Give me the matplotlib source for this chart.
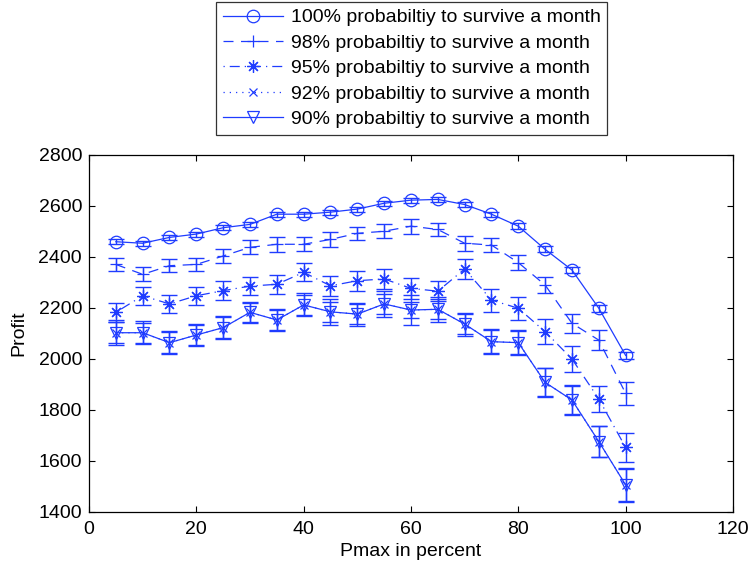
import numpy as np
import matplotlib
matplotlib.use('Agg')
import matplotlib.pyplot as plt

plt.rcParams['font.family'] = ['Liberation Sans', 'DejaVu Sans']
plt.rcParams['font.size'] = 14

pmax = [5, 10, 15, 20, 25, 30, 35, 40, 45, 50, 55, 60, 65, 70, 75, 80, 85, 90, 95, 100]

p100 = [2459, 2453, 2476, 2489, 2514, 2527, 2567, 2567, 2575, 2587,
        2610, 2622, 2625, 2605, 2567, 2520, 2429, 2348, 2198, 2013]
e100 = [10, 10, 10, 10, 10, 10, 10, 10, 10, 10, 10, 10, 10, 10, 10, 11, 12, 12, 13, 14]

p98 = [2370, 2331, 2365, 2370, 2403, 2437, 2449, 2449, 2468, 2492,
       2500, 2520, 2507, 2453, 2446, 2377, 2289, 2139, 2073, 1864]
e98 = [24, 27, 26, 26, 27, 28, 30, 28, 28, 25, 28, 30, 27, 30, 28, 30, 32, 38, 40, 44]

p95 = [2182, 2247, 2215, 2247, 2267, 2285, 2292, 2339, 2286, 2306,
       2313, 2276, 2265, 2352, 2230, 2198, 2106, 1999, 1842, 1652]
e95 = [38, 36, 36, 36, 36, 35, 38, 36, 40, 40, 40, 40, 40, 38, 45, 45, 48, 50, 50, 58]

p92 = [2102, 2102, 2063, 2093, 2122, 2182, 2152, 2211, 2184, 2175,
       2215, 2191, 2194, 2136, 2067, 2063, 1907, 1838, 1675, 1505]
e92 = [50, 45, 44, 44, 44, 42, 45, 45, 50, 45, 50, 58, 50, 45, 50, 50, 58, 58, 62, 66]

p90 = [2102, 2102, 2063, 2093, 2122, 2182, 2152, 2211, 2184, 2175,
       2215, 2191, 2194, 2136, 2067, 2063, 1907, 1838, 1675, 1505]
e90 = [42, 40, 42, 40, 40, 38, 40, 40, 40, 40, 38, 33, 40, 40, 45, 45, 55, 55, 60, 63]

labels = ['100% probabiltiy to survive a month',
          '98% probabiltiy to survive a month',
          '95% probabiltiy to survive a month',
          '92% probabiltiy to survive a month',
          '90% probabiltiy to survive a month']

blue = '#1f3cff'
# values, errors, marker, marker size, dash pattern
series = [(p100, e100, 'o', 9, None),
          (p98, e98, '+', 9, (8, 6)),
          (p95, e95, (8, 2, 0), 9, (1, 4, 8, 4)),
          (p92, e92, 'x', 6, (1, 4)),
          (p90, e90, 'v', 9, None)]

fig = plt.figure(figsize=(7.51, 5.65), dpi=100)
ax = fig.add_axes([0.1185, 0.0944, 0.976 - 0.1185, 0.726 - 0.0944])

handles = []
for (y, e, m, ms, d), lab in zip(series, labels):
    ax.errorbar(pmax, y, yerr=e, fmt='none', ecolor=blue, elinewidth=1.0,
                capsize=6, capthick=1.0)
    ln, = ax.plot(pmax, y, color=blue, lw=0.9, marker=m, markersize=ms,
                  markerfacecolor='none', markeredgecolor=blue, markeredgewidth=0.9,
                  label=lab)
    if d is not None:
        ln.set_dashes(d)
    handles.append(ln)

ax.set_xlim(0, 120)
ax.set_ylim(1400, 2800)
ax.set_xticks(np.arange(0, 121, 20))
ax.set_yticks(np.arange(1400, 2801, 200))
ax.tick_params(direction='in', top=True, right=True, length=4, width=0.8, labelsize=14)
ax.tick_params(axis='x', pad=7)
ax.tick_params(axis='y', pad=5)
for s in ax.spines.values():
    s.set_linewidth(0.9)
ax.set_xlabel('Pmax in percent', fontsize=14, labelpad=3)
ax.set_ylabel('Profit', fontsize=14, labelpad=8)

leg = fig.legend(handles=handles, loc='upper center', bbox_to_anchor=(411.5 / 751, 1 - 2 / 565),
                 fancybox=False, edgecolor='black', handlelength=3.1, fontsize=14,
                 borderpad=0.35, labelspacing=0.4, handletextpad=0.4, borderaxespad=0)
leg.get_frame().set_linewidth(0.9)

fig.savefig('out.png', dpi=100)
